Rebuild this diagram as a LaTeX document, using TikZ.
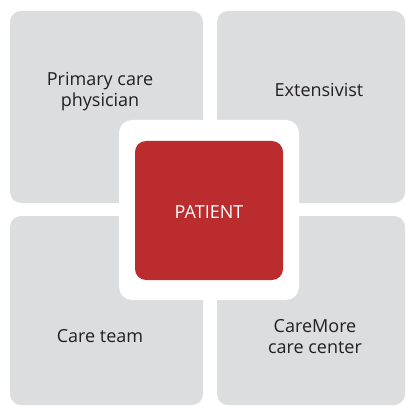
\documentclass[tikz,border=0pt]{standalone}
\usepackage{fontspec}
\setmainfont{Open Sans}
\definecolor{boxgray}{HTML}{DCDDDF}
\definecolor{patred}{HTML}{BA2C2D}
\definecolor{txt}{HTML}{231F20}
\begin{document}
\begin{tikzpicture}[x=1pt,y=-1pt,
  graybox/.style={fill=boxgray,draw=none,rounded corners=11pt},
  lbl/.style={text=txt,font=\fontsize{18}{21}\selectfont,align=center,inner sep=0pt,anchor=base}]
\useasboundingbox (0,0) rectangle (406,406);
\fill[white] (0,0) rectangle (406,406);
\path[graybox] (10,11) rectangle (203,203);
\path[graybox] (217,11) rectangle (405,203);
\path[graybox] (10,216) rectangle (203,405);
\path[graybox] (217,216) rectangle (405,405);
\fill[white,rounded corners=13pt] (119,120) rectangle (299,300);
\fill[patred,rounded corners=11pt] (135,141) rectangle (283,280);
\node[lbl] (pcp) at (100,107) {Primary care\\physician};
\node[lbl] (ext) at (319,97) {Extensivist};
\node[lbl] (team) at (100,342) {Care team};
\node[lbl] (center) at (315,353) {CareMore\\care center};
\node[lbl,text=white] (patient) at (209,218) {PATIENT};
\end{tikzpicture}
\end{document}
